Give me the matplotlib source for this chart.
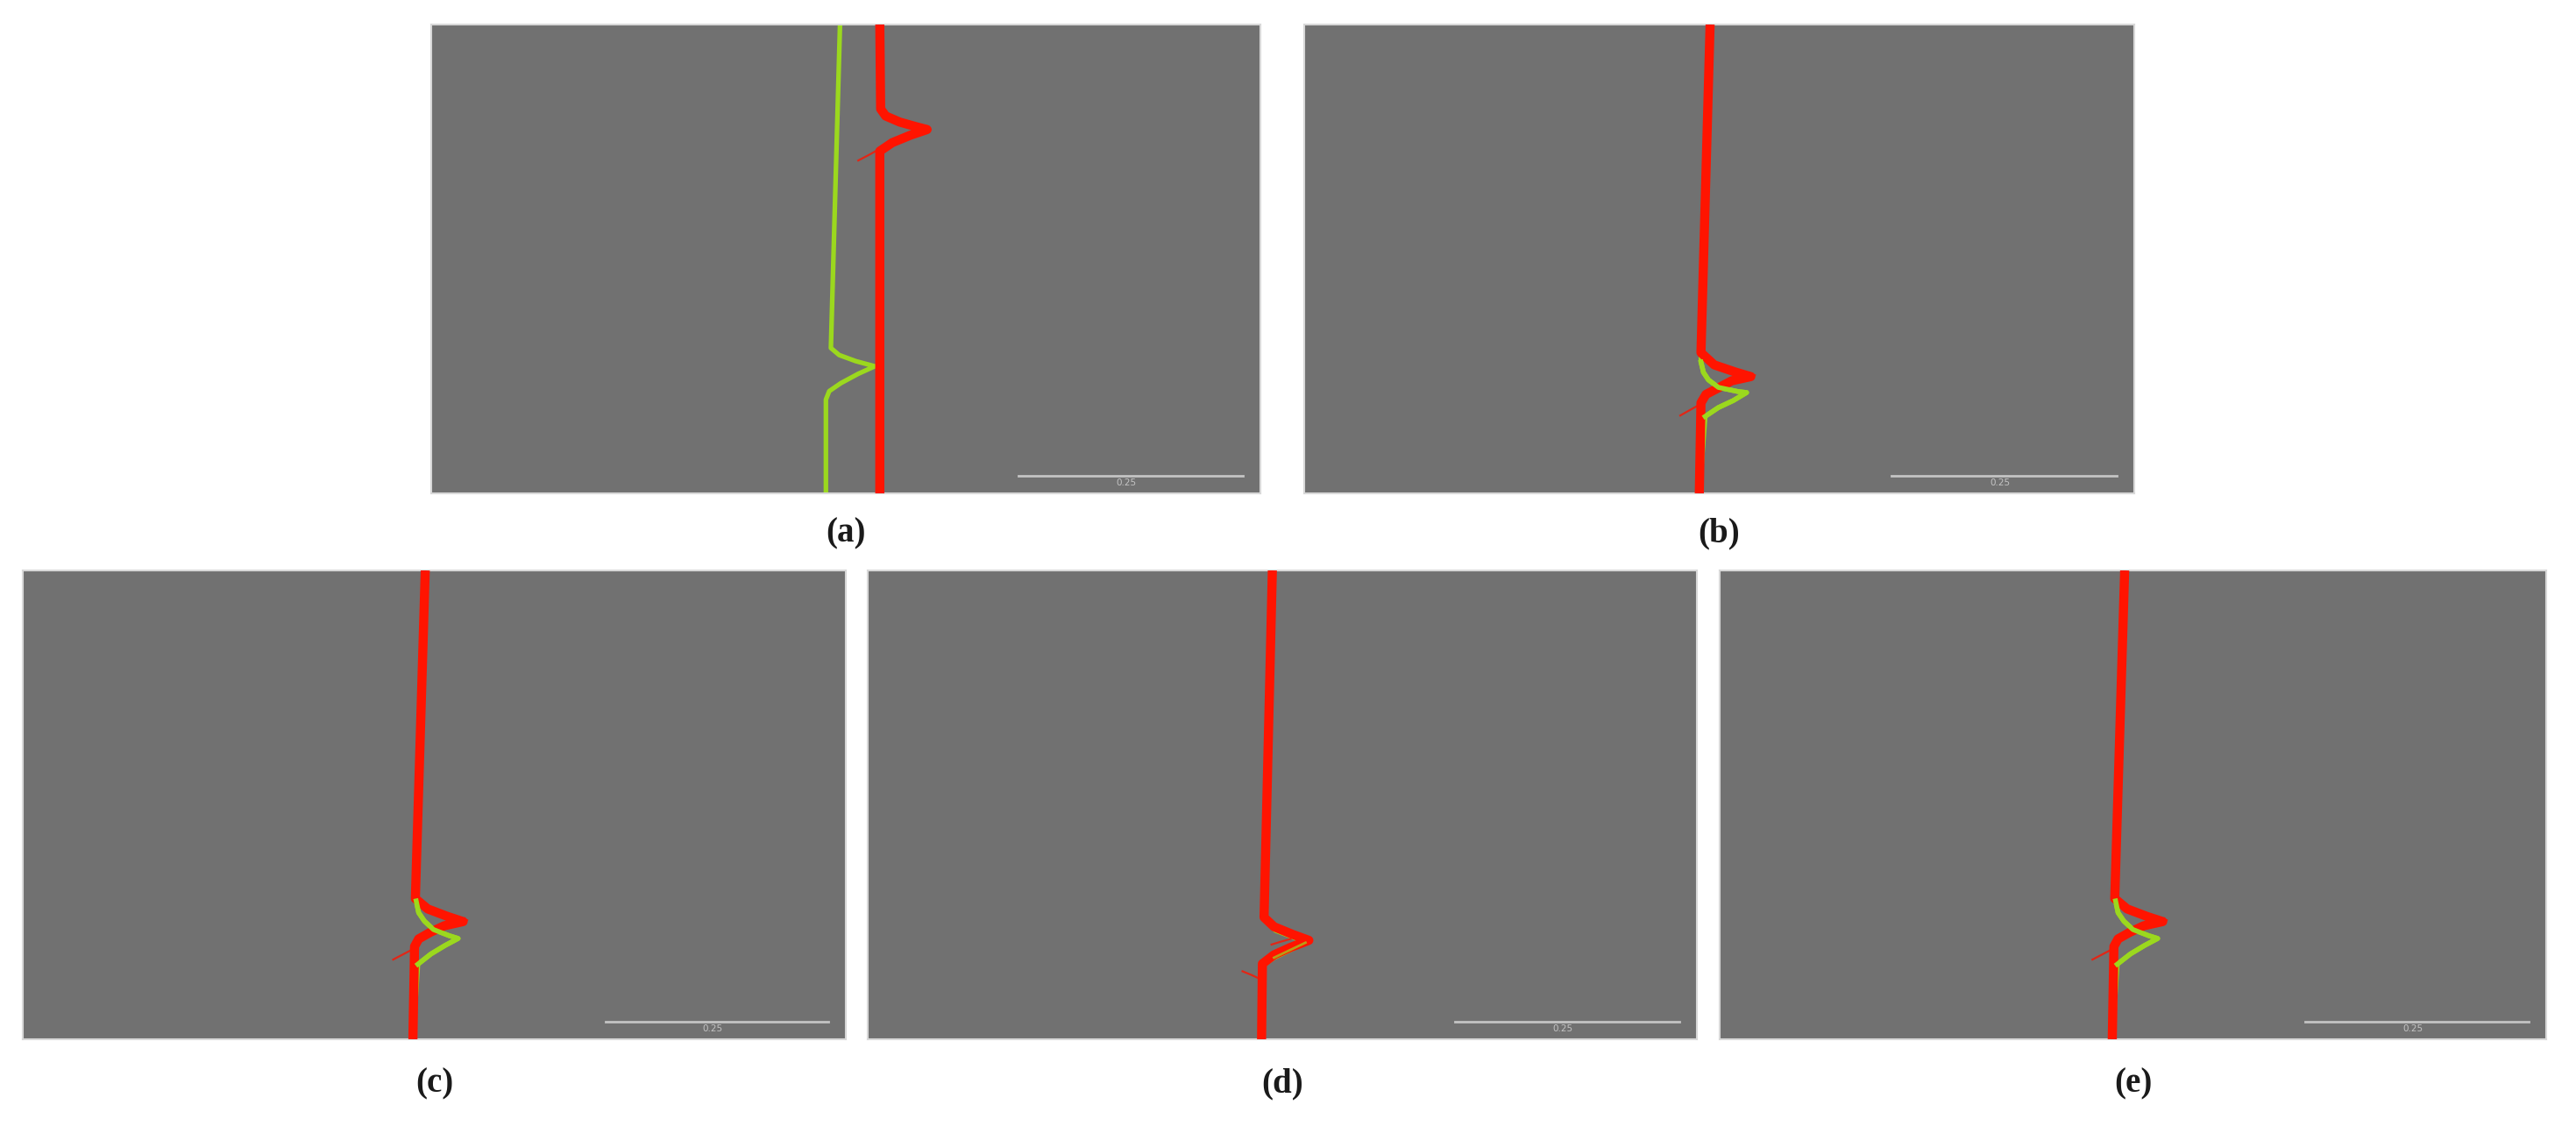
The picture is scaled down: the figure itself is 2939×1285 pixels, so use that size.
import numpy as np
import matplotlib
matplotlib.use("Agg")
import matplotlib.pyplot as plt

# panel layout in pixels: left, top, width, height
W, H = 2939, 1285
panels = {
    'a': (492, 28, 946, 535),
    'b': (1488, 28, 947, 535),
    'c': (26, 651, 939, 535),
    'd': (990, 651, 946, 535),
    'e': (1962, 651, 943, 535),
}
labels = ['(a)', '(b)', '(c)', '(d)', '(e)']

# traces, x = fraction of panel width, y = fraction of panel height from top
green_a_y = [0.0, 0.69, 0.705, 0.718, 0.729, 0.745, 0.765, 0.782, 0.80, 1.0]
green_a_x = [0.493, 0.482, 0.492, 0.512, 0.535, 0.515, 0.494, 0.480, 0.476, 0.476]
red_a_y = [0.0, 0.18, 0.195, 0.208, 0.218, 0.224, 0.236, 0.252, 0.27, 1.0]
red_a_x = [0.541, 0.542, 0.548, 0.565, 0.585, 0.598, 0.578, 0.556, 0.541, 0.541]
red_a_thin_y = [[0.20, 0.214, 0.224], [0.222, 0.234, 0.248], [0.266, 0.278, 0.29]]
red_a_thin_x = [[0.548, 0.575, 0.602], [0.598, 0.575, 0.556], [0.540, 0.528, 0.515]]

green_b_y = [0.0, 0.72, 0.742, 0.758, 0.774, 0.783, 0.785, 0.802, 0.817, 0.836, 1.0]
green_b_x = [0.489, 0.478, 0.481, 0.487, 0.499, 0.523, 0.533, 0.517, 0.499, 0.483, 0.476]
red_b_y = [0.0, 0.70, 0.726, 0.741, 0.751, 0.760, 0.776, 0.789, 0.807, 1.0]
red_b_x = [0.489, 0.478, 0.494, 0.519, 0.538, 0.515, 0.498, 0.484, 0.478, 0.476]
red_b_thin_y = [[0.715, 0.735, 0.748], [0.745, 0.760, 0.772], [0.810, 0.822, 0.834]]
red_b_thin_x = [[0.486, 0.515, 0.543], [0.540, 0.522, 0.505], [0.477, 0.465, 0.453]]

green_c_y = [0.0, 0.705, 0.73, 0.748, 0.766, 0.779, 0.785, 0.80, 0.818, 0.84, 1.0]
green_c_x = [0.489, 0.478, 0.481, 0.488, 0.499, 0.518, 0.529, 0.513, 0.496, 0.480, 0.474]
red_c_y = [0.0, 0.70, 0.722, 0.738, 0.749, 0.758, 0.772, 0.786, 0.802, 1.0]
red_c_x = [0.489, 0.477, 0.492, 0.516, 0.535, 0.512, 0.495, 0.481, 0.476, 0.474]
red_c_thin_y = [[0.712, 0.732, 0.746], [0.742, 0.756, 0.768], [0.806, 0.818, 0.830]]
red_c_thin_x = [[0.484, 0.512, 0.540], [0.537, 0.518, 0.502], [0.476, 0.463, 0.450]]

green_d_y = [0.0, 0.745, 0.768, 0.783, 0.794, 0.810, 0.826, 0.842, 1.0]
green_d_x = [0.488, 0.478, 0.492, 0.514, 0.528, 0.509, 0.490, 0.477, 0.475]
red_d_y = [0.0, 0.74, 0.760, 0.776, 0.789, 0.804, 0.820, 0.839, 1.0]
red_d_x = [0.488, 0.478, 0.490, 0.512, 0.532, 0.510, 0.490, 0.476, 0.475]
red_d_thin_y = [[0.798, 0.792, 0.786], [0.855, 0.863, 0.872]]
red_d_thin_x = [[0.487, 0.498, 0.510], [0.452, 0.463, 0.474]]

green_e_y = green_c_y
green_e_x = [0.490, 0.479, 0.482, 0.489, 0.500, 0.519, 0.530, 0.514, 0.497, 0.481, 0.475]
red_e_y = red_c_y
red_e_x = [0.490, 0.478, 0.493, 0.517, 0.536, 0.513, 0.496, 0.482, 0.477, 0.475]
red_e_thin_y = red_c_thin_y
red_e_thin_x = [[0.485, 0.513, 0.541], [0.538, 0.519, 0.503], [0.477, 0.464, 0.451]]

traces = {
    'a': (green_a_x, green_a_y, red_a_x, red_a_y, red_a_thin_x, red_a_thin_y),
    'b': (green_b_x, green_b_y, red_b_x, red_b_y, red_b_thin_x, red_b_thin_y),
    'c': (green_c_x, green_c_y, red_c_x, red_c_y, red_c_thin_x, red_c_thin_y),
    'd': (green_d_x, green_d_y, red_d_x, red_d_y, red_d_thin_x, red_d_thin_y),
    'e': (green_e_x, green_e_y, red_e_x, red_e_y, red_e_thin_x, red_e_thin_y),
}

scale_x = [0.708, 0.979]
scale_label = '0.25'

bg = '#717171'
red = '#ff1400'
green = '#9bd81e'

fig = plt.figure(figsize=(W / 100, H / 100), dpi=100)

for key, lab in zip(panels, labels):
    l, t, w, h = panels[key]
    ax = fig.add_axes([l / W, 1 - (t + h) / H, w / W, h / H])
    ax.set_facecolor(bg)
    ax.set_xlim(0, 1)
    ax.set_ylim(1, 0)
    ax.set_xticks([])
    ax.set_yticks([])
    for s in ax.spines.values():
        s.set_color('#d8d8d8')
        s.set_linewidth(1.5)

    gx, gy, rx, ry, tx, ty = traces[key]
    gw = 3.8 if key == 'a' else 4.0
    ax.plot(gx, gy, color=green, lw=gw, solid_capstyle='butt', zorder=2)
    ax.plot(rx, ry, color=red, lw=7.5, solid_capstyle='butt', zorder=3)
    for xs, ys in zip(tx, ty):
        ax.plot(xs, ys, color=red, lw=1.6, alpha=0.8, zorder=3)
    if key in ('b', 'c', 'e'):
        # green bump shows over the red trace
        ax.plot(gx[1:-1], gy[1:-1], color=green, lw=gw, zorder=4)
    elif key == 'd':
        # green mostly hidden, only a faint tint on the lower branch
        ax.plot(gx[4:7], gy[4:7], color=green, lw=2.0, alpha=0.7, zorder=4)

    ax.plot(scale_x, [0.963, 0.963], color='#c4c4c4', lw=2.0, zorder=5)
    ax.text(np.mean(scale_x) - 0.005, 0.978, scale_label, color='#c4c4c4',
            fontsize=7.5, ha='center', va='center', zorder=5)

    lab_y = 609 if t < 100 else 1237
    fig.text((l + w / 2) / W, 1 - lab_y / H, lab, ha='center', va='center',
             fontsize=28, family='Liberation Serif', fontweight='bold',
             color='#1a1a1a')

fig.savefig('out.png', dpi=100, facecolor='white')
